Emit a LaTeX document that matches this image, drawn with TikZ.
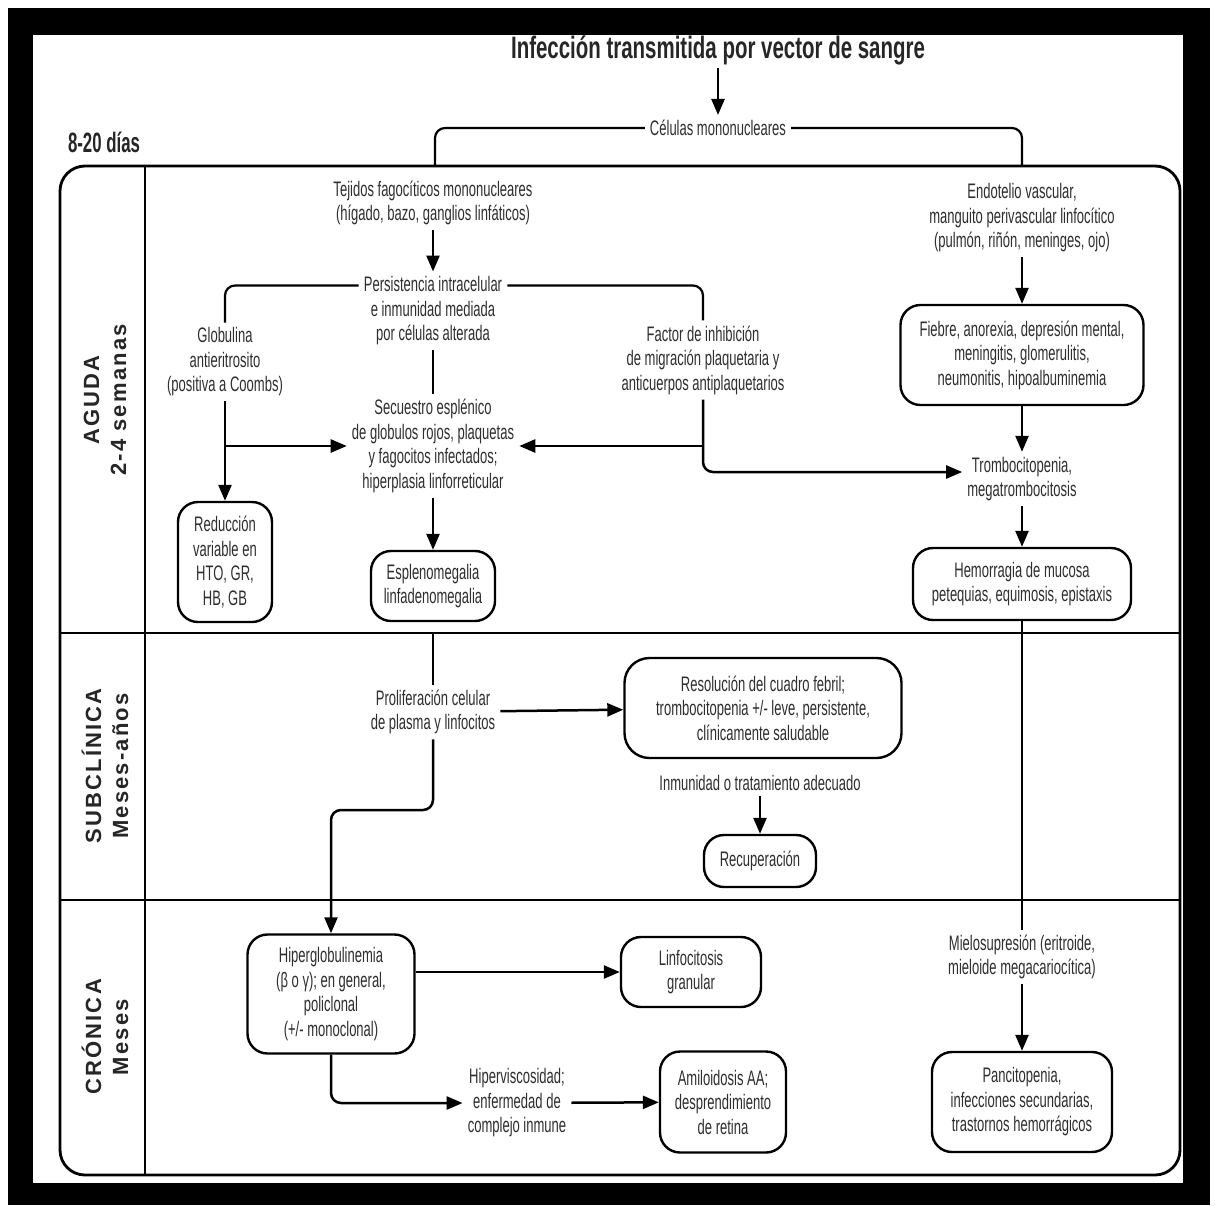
\documentclass[tikz,border=0pt]{standalone}
\usepackage{fontspec}
\setmainfont{Liberation Sans}
\newfontfamily\narrowfont[FakeStretch=0.62]{Liberation Sans}
\newfontfamily\headfont[FakeStretch=0.66]{Liberation Sans Bold}
\newfontfamily\daysfont[FakeStretch=0.60]{Liberation Sans Bold}
\newfontfamily\phasefont[LetterSpace=10]{Liberation Sans Bold}
\usetikzlibrary{arrows.meta}
\definecolor{txtgray}{HTML}{2E2E2E}
\newcommand\bodytext{\narrowfont\fontsize{21}{24.5}\selectfont}

\begin{document}
\begin{tikzpicture}[%
    x=1pt, y=-1pt,
    lbl/.style={align=center, text=txtgray, font=\bodytext, inner sep=5pt},
    rbox/.style={lbl, draw=black, line width=2.4pt, rounded corners=20pt, inner sep=3pt},
    link/.style={line width=2.2pt, rounded corners=10pt},
    flow/.style={line width=2.5pt, rounded corners=10pt, -{Triangle[length=16pt,width=13pt]}},
    lane/.style={line width=2.8pt},
    phase/.style={rotate=90, align=center, text=black!85,
                  font=\phasefont\fontsize{22}{27}\selectfont}
  ]
  \useasboundingbox (0,0) rectangle (1217,1205);
  % frame
  \fill[white] (0,0) rectangle (1217,1205);
  \fill[black] (8,8) rectangle (1210,1205);
  \fill[white] (33,35) rectangle (1183,1183);

  % swimlanes
  \draw[lane, rounded corners=25pt] (60,166) rectangle (1180,1175);
  \draw[lane] (145,166) -- (145,1175);
  \foreach \ly in {633,900}
    \draw[lane] (60,\ly) -- (1180,\ly);

  \node[phase] (aguda) at (105,400) {AGUDA\\2-4 semanas};
  \node[phase] (subcl) at (105,766) {SUBCLÍNICA\\Meses-años};
  \node[phase] (cronica) at (105,1037) {CRÓNICA\\Meses};

  % header
  \node[font=\headfont\fontsize{31}{36}\selectfont, text=black!85] (title) at (718,50)
    {Infección transmitida por vector de sangre};
  \node[font=\daysfont\fontsize{28}{32}\selectfont, text=black!85] (dias) at (104,142) {8-20 días};
  \node[lbl] (cel) at (718,128) {Células mononucleares};
  \coordinate (celL) at (435,166);
  \coordinate (celR) at (1022,166);

  % aguda
  \node[lbl] (tej) at (433,203) {Tejidos fagocíticos mononucleares\\(hígado, bazo, ganglios linfáticos)};
  \node[lbl] (pers) at (433,311) {Persistencia intracelular\\e inmunidad mediada\\por células alterada};
  \node[lbl] (glob) at (225,362) {Globulina\\antieritrosito\\(positiva a Coombs)};
  \node[lbl] (fac) at (703,360) {Factor de inhibición\\de migración plaquetaria y\\anticuerpos antiplaquetarios};
  \node[lbl] (sec) at (433,446) {Secuestro esplénico\\de globulos rojos, plaquetas\\y fagocitos infectados;\\hiperplasia linforreticular};
  \node[rbox, minimum width=94pt, minimum height=120pt] (reduc) at (225,562) {Reducción\\variable en\\HTO, GR,\\HB, GB};
  \node[rbox, minimum width=124pt, minimum height=70pt] (esplen) at (433,586) {Esplenomegalia\\linfadenomegalia};
  \node[lbl] (endo) at (1022,218) {Endotelio vascular,\\manguito perivascular linfocítico\\(pulmón, riñón, meninges, ojo)};
  \node[rbox, minimum width=243pt, minimum height=100pt] (fiebre) at (1022,355) {Fiebre, anorexia, depresión mental,\\meningitis, glomerulitis,\\neumonitis, hipoalbuminemia};
  \node[lbl] (trombo) at (1022,479) {Trombocitopenia,\\megatrombocitosis};
  \node[rbox, minimum width=218pt, minimum height=72pt] (hemor) at (1022,584) {Hemorragia de mucosa\\petequias, equimosis, epistaxis};

  % subclinica
  \coordinate (sub1) at (433,633);
  \coordinate (bend) at (433,810);
  \node[lbl] (prolif) at (433,712) {Proliferación celular\\de plasma y linfocitos};
  \node[rbox, minimum width=277pt, minimum height=100pt, rounded corners=25pt] (resol) at (763,708) {Resolución del cuadro febril;\\trombocitopenia +/- leve, persistente,\\clínicamente saludable};
  \node[lbl] (inmun) at (760,783) {Inmunidad o tratamiento adecuado};
  \node[rbox, minimum width=112pt, minimum height=52pt] (recup) at (760,861) {Recuperación};

  % cronica
  \node[rbox, minimum width=167pt, minimum height=119pt] (hiper) at (331,994) {Hiperglobulinemia\\(β o γ); en general,\\policlonal\\(+/- monoclonal)};
  \node[rbox, minimum width=140pt, minimum height=70pt] (linf) at (691,972) {Linfocitosis\\granular};
  \node[lbl] (hvisc) at (517,1103) {Hiperviscosidad;\\enfermedad de\\complejo inmune};
  \node[rbox, minimum width=126pt, minimum height=101pt] (amil) at (723,1102) {Amiloidosis AA;\\desprendimiento\\de retina};
  \node[lbl] (mielo) at (1022,957) {Mielosupresión (eritroide,\\mieloide megacariocítica)};
  \node[rbox, minimum width=180pt, minimum height=100pt] (panc) at (1022,1102) {Pancitopenia,\\infecciones secundarias,\\trastornos hemorrágicos};

  % connectors
  \draw[flow] (title) -- (cel);
  \draw[link] (cel.west) -| (celL);
  \draw[link] (cel.east) -| (celR);
  \draw[flow] (tej) -- (pers);
  \draw[link] ([yshift=-14pt]pers.north west) -| (glob.north);
  \draw[link] ([yshift=-14pt]pers.north east) -| (fac.north);
  \draw[link] (pers) -- (sec);
  \draw[flow] (glob) -- (reduc);
  \draw[flow] (glob.south |- sec.west) -- (sec.west);
  \draw[flow] (fac.south |- sec.east) -- (sec.east);
  \draw[flow] (fac.south) |- ([yshift=7pt]trombo.west);
  \draw[flow] (sec) -- (esplen);
  \draw[flow] (endo) -- (fiebre);
  \draw[flow] (fiebre) -- (trombo);
  \draw[flow] (trombo) -- (hemor);
  \draw[link] (hemor) -- (mielo);
  \draw[link] (sub1) -- (prolif);
  \draw[flow] (prolif) -- (resol);
  \draw[flow] (inmun) -- (recup);
  \draw[flow] (prolif) -- (bend) -| (hiper.north);
  \draw[flow] (hiper.east |- linf.west) -- (linf.west);
  \draw[flow] (hiper.south) |- (hvisc.west);
  \draw[flow] (hvisc) -- (amil);
  \draw[flow] (mielo) -- (panc);
\end{tikzpicture}
\end{document}
